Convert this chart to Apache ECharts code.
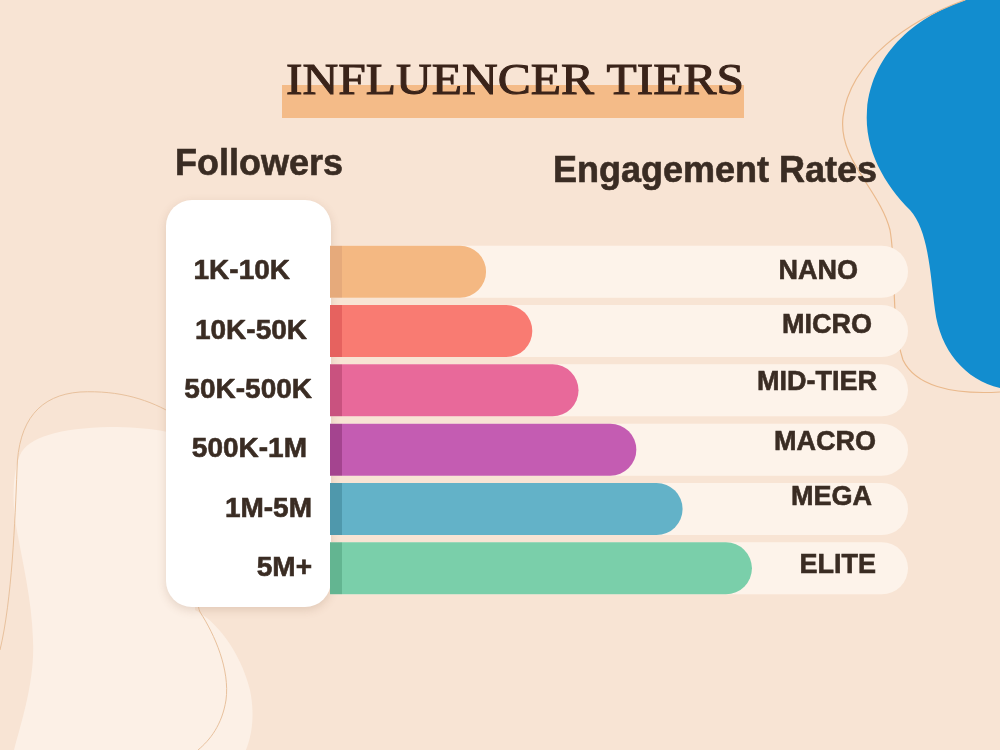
<!DOCTYPE html>
<html>
<head>
<meta charset="utf-8">
<script src="https://cdn.jsdelivr.net/npm/echarts@6/dist/echarts.min.js"></script>
<style>
html,body{margin:0;padding:0;background:#f8e4d4;}
#c{width:1000px;height:750px;}
</style>
</head>
<body>
<div id="c"></div>
<script>
// ---- data ----
var followers = ['1K-10K', '10K-50K', '50K-500K', '500K-1M', '1M-5M', '5M+'];
var tiers = ['NANO', 'MICRO', 'MID-TIER', 'MACRO', 'MEGA', 'ELITE'];
var engagement = [27, 35, 43, 53, 61, 73];
var axisMax = 100;

// ---- styles ----
var barColors = ['#f4b882', '#f97b72', '#e8699a', '#c45cb2', '#63b2c8', '#7acfaa'];
var stripeColors = ['#e6aa7b', '#e6625f', '#c9527f', '#a4448f', '#4f98ac', '#63b591'];
var leftPadRight = [22, 5, 0, 5, 0, 0];
var rightPad = [[0, 19, 0, 0], [0, 5, 10, 0], [0, 0, 16, 0], [0, 1, 14, 0], [0, 5, 22, 0], [0, 1, 6, 0]];
var textColor = '#3a2c23';
var sans = '"Liberation Sans", Arial, sans-serif';

// decorative shapes
var shapePaths = {
  blueBlob: 'M 966 0 C 920 15, 872 50, 867 110 C 864 150, 885 185, 910 210 C 928 230, 930 270, 935 310 C 940 350, 965 380, 1000 388 L 1000 0 Z',
  rightLine: 'M 965 0 C 910 20, 850 60, 843 117 C 838 160, 880 190, 890 230 C 897 270, 890 320, 903 360 C 915 385, 950 395, 1000 392',
  leftBlob: 'M 20 455 C 28 437, 60 428, 110 427 C 150 427, 175 432, 195 440 L 195 610 C 215 620, 240 650, 250 690 C 256 720, 250 740, 246 750 L 14 750 C 22 720, 35 680, 33 640 C 32 600, 22 560, 15 520 C 12 490, 14 470, 20 455 Z',
  leftLine: 'M 0 650 C 12 600, 15 520, 17 470 C 18 420, 40 395, 80 392 C 120 390, 150 400, 175 415 C 200 430, 190 590, 200 612 C 215 635, 230 670, 226 700 C 222 725, 210 740, 198 750'
};
Object.keys(shapePaths).forEach(function (k) {
  echarts.graphic.registerShape(k, echarts.graphic.extendPath(shapePaths[k], {}));
});

var chart = echarts.init(document.getElementById('c'), null, {renderer: 'canvas'});

var leftRich = {}, rightRich = {};
followers.forEach(function (f, i) {
  leftRich['l' + i] = {padding: [0, leftPadRight[i], 0, 0], fontSize: 28, fontWeight: 'bold', color: textColor, fontFamily: sans,
    textBorderColor: textColor, textBorderWidth: 0.6};
});
tiers.forEach(function (t, i) {
  rightRich['r' + i] = {padding: rightPad[i], fontSize: 27, fontWeight: 'bold', color: textColor, fontFamily: sans,
    textBorderColor: textColor, textBorderWidth: 0.6};
});

var gridLeft = 330, gridRight = 92;

function barColor(i) {
  var x0 = gridLeft, x1 = 1000 - gridRight;
  var s = 12 / (x1 - x0);
  return new echarts.graphic.LinearGradient(x0, 0, x1, 0, [
    {offset: 0, color: stripeColors[i]},
    {offset: s, color: stripeColors[i]},
    {offset: s + 0.0005, color: barColors[i]},
    {offset: 1, color: barColors[i]}
  ], true);
}

var option = {
  backgroundColor: '#f8e4d4',
  animation: false,
  grid: {left: gridLeft, right: gridRight, top: 242, bottom: 152, containLabel: false},
  xAxis: {type: 'value', min: 0, max: axisMax, show: false},
  yAxis: [
    {
      type: 'category', data: followers, inverse: true, z: 10,
      axisLine: {show: false}, axisTick: {show: false}, splitLine: {show: false},
      axisLabel: {
        margin: 18,
        formatter: function (v, i) { return '{l' + i + '|' + v + '}'; },
        rich: leftRich
      }
    },
    {
      type: 'category', data: tiers, inverse: true, position: 'right', z: 10,
      axisLine: {show: false}, axisTick: {show: false}, splitLine: {show: false},
      axisLabel: {
        inside: true, margin: 31,
        formatter: function (v, i) { return '{r' + i + '|' + v + '}'; },
        rich: rightRich
      }
    }
  ],
  series: [{
    type: 'bar',
    yAxisIndex: 0,
    barWidth: 52,
    z: 3,
    showBackground: true,
    backgroundStyle: {color: '#fdf3ea', borderRadius: [0, 26, 26, 0]},
    data: engagement.map(function (v, i) {
      return {value: v, itemStyle: {color: barColor(i), borderRadius: [0, 26, 26, 0]}};
    })
  }],
  graphic: {
    elements: [
      {type: 'blueBlob', z: -5, silent: true, style: {fill: '#128dcf'}},
      {type: 'rightLine', z: -4, silent: true, style: {fill: null, stroke: '#eab98c', lineWidth: 1.2}},
      {type: 'leftBlob', z: -5, silent: true, style: {fill: '#fcf0e6'}},
      {type: 'leftLine', z: -4, silent: true, style: {fill: null, stroke: '#e8c19d', lineWidth: 1}},
      {
        type: 'rect', z: 1, silent: true,
        shape: {x: 166, y: 200, width: 165, height: 407, r: 26},
        style: {fill: '#ffffff', shadowBlur: 10, shadowColor: 'rgba(120,80,50,0.18)', shadowOffsetY: 3}
      },
      {
        type: 'rect', z: 1, silent: true,
        shape: {x: 282, y: 85, width: 462, height: 33},
        style: {fill: '#f4bb88'}
      },
      {
        type: 'text', z: 5, silent: true,
        x: 515, y: 82, scaleX: 1.1,
        style: {text: 'INFLUENCER TIERS', fontSize: 45, fontFamily: '"Liberation Serif", "Times New Roman", serif', fill: '#3a2319',
          stroke: '#3a2319', lineWidth: 1, align: 'center', verticalAlign: 'middle'}
      },
      {
        type: 'text', z: 5, silent: true,
        x: 175, y: 165,
        style: {text: 'Followers', fontSize: 36, fontWeight: 'bold', fontFamily: sans, fill: textColor, stroke: textColor, lineWidth: 0.6, align: 'left', verticalAlign: 'middle'}
      },
      {
        type: 'text', z: 5, silent: true,
        x: 553, y: 172,
        style: {text: 'Engagement Rates', fontSize: 36, fontWeight: 'bold', fontFamily: sans, fill: textColor, stroke: textColor, lineWidth: 0.6, align: 'left', verticalAlign: 'middle'}
      }
    ]
  }
};
chart.setOption(option);
</script>
</body>
</html>
